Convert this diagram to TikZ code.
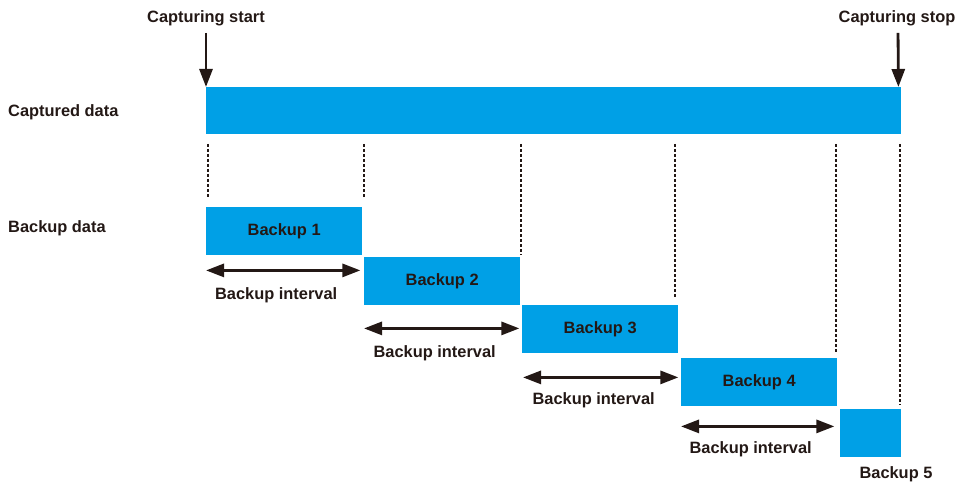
\documentclass[tikz,border=0pt]{standalone}
\usepackage{fontspec}
\setmainfont{Liberation Sans}
\usepackage{xcolor}
\usetikzlibrary{arrows.meta,positioning}

\definecolor{barblue}{HTML}{00A0E6}
\definecolor{inkdark}{HTML}{231815}

\begin{document}
\begin{tikzpicture}[
    x=1pt, y=-1pt,
    every node/.style={font=\fontsize{16.4}{18}\selectfont\bfseries, text=inkdark, inner sep=0pt},
    dados/.style={fill=barblue, anchor=north west, minimum height=48pt},
    bloco/.style={dados, minimum width=156pt},
    marca/.style={-{Triangle[length=18pt, width=13pt]}, line width=2.8pt, draw=inkdark},
    intervalo/.style={{Triangle[length=18pt, width=13pt]}-{Triangle[length=18pt, width=13pt]},
        line width=2.8pt, draw=inkdark},
    guia/.style={draw=inkdark, line width=1.2pt, dash pattern=on 3pt off 2pt}
]
    \useasboundingbox (0,0) rectangle (956,484);

    % textos laterais
    \node[anchor=west] (capt) at (8,112) {Captured data};
    \node[anchor=west] (back) at (8,228) {Backup data};

    % barra de dados capturados
    \node[dados, minimum width=695pt, minimum height=47pt] (barra) at (206,87) {};
    \node (inicio) at (206,18) {Capturing start};
    \node (fim) at (897,18) {Capturing stop};
    \draw[marca, shorten <=7pt] (inicio.south) -- (barra.north west);
    \draw[marca, shorten <=7pt] (fim.south -| {898,0}) -- ([xshift=-3pt]barra.north east);

    % blocos de backup
    \node[bloco] (b1) at (206,207) {};
    \node at (b1.center) {Backup 1};
    \node[bloco] (b2) at (364,257) {};
    \node at (b2.center) {Backup 2};
    \node[bloco] (b3) at (522,305) {};
    \node at (b3.center) {Backup 3};
    \node[bloco] (b4) at (681,358) {};
    \node at (b4.center) {Backup 4};
    \node[dados, minimum width=61pt] (b5) at (840,409) {};
    \node (rot5) at (896,474) {Backup 5};

    % linhas guia
    \draw[guia] (208,144) -- (208,197);
    \draw[guia] (364,144) -- (364,197);
    \draw[guia] (521,144) -- (521,255);
    \draw[guia] (675,144) -- (675,298);
    \draw[guia] (836,144) -- (836,352);
    \draw[guia] (900,144) -- (900,405);

    % intervalos
    \draw[intervalo] ([yshift=-15pt]b1.south west) -- ([yshift=-15pt, xshift=-2pt]b1.south east)
        coordinate[midway] (i1);
    \node (t1) at ([xshift=-7pt, yshift=-25pt]i1) {Backup interval};
    \draw[intervalo] ([yshift=-23pt]b2.south west) -- ([yshift=-23pt, xshift=-1pt]b2.south east)
        coordinate[midway] (i2);
    \node (t2) at ([xshift=-7pt, yshift=-25pt]i2) {Backup interval};
    \draw[intervalo] ([yshift=-24pt, xshift=1pt]b3.south west) -- ([yshift=-24pt]b3.south east)
        coordinate[midway] (i3);
    \node (t3) at ([xshift=-7pt, yshift=-23pt]i3) {Backup interval};
    \draw[intervalo] ([yshift=-20pt]b4.south west) -- ([yshift=-20pt, xshift=-3pt]b4.south east)
        coordinate[midway] (i4);
    \node (t4) at ([xshift=-7pt, yshift=-23pt]i4) {Backup interval};
\end{tikzpicture}
\end{document}
